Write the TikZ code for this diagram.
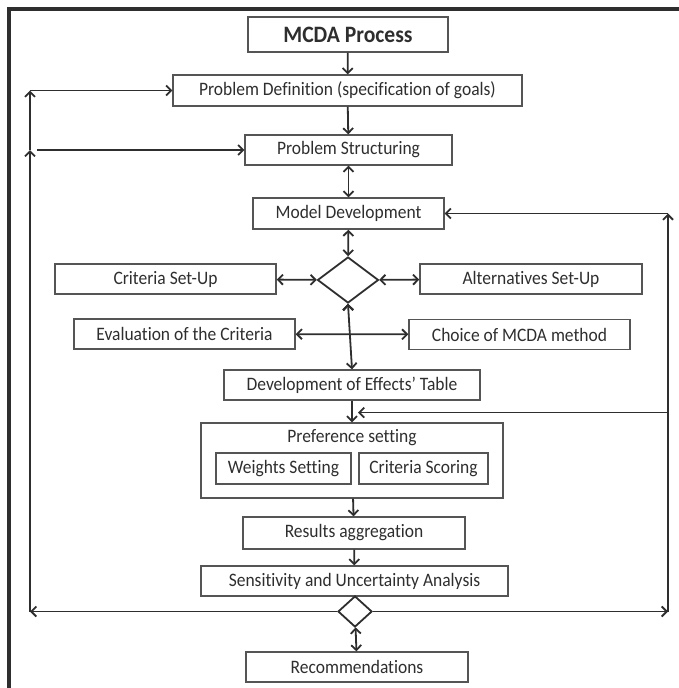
\documentclass[tikz,border=0pt]{standalone}
\usepackage{fontspec}
\setmainfont{Carlito}[Ligatures={NoCommon}, FakeStretch=0.92]
\usetikzlibrary{shapes.geometric, arrows.meta, calc}
\definecolor{ink}{HTML}{2E2E2E}
\definecolor{boxline}{HTML}{555555}

\begin{document}
\begin{tikzpicture}[x=1pt, y=-1pt, >={Straight Barb[length=5pt,width=10pt]},
    block/.style={draw=boxline, line width=1.3pt, text=ink, inner sep=0pt, minimum height=30,
        font=\fontsize{19}{22}\selectfont},
    decision/.style={draw=ink, diamond, line width=1.8pt, inner sep=0pt},
    flow/.style={draw=ink, line width=1.8pt}]
    \useasboundingbox (0,0) rectangle (679,688);
    \draw[ink, line width=3.5pt] (9,688) -- (9,9) -- (679,9);

    \node[block, minimum width=200, minimum height=35, font=\fontsize{23.5}{27}\selectfont\bfseries] (mcda) at (348,34.5) {MCDA Process};
    \node[block, minimum width=349, minimum height=31] (def) at (347.5,90.5) {Problem Definition (specification of goals)};
    \node[block, minimum width=207] (struct) at (348.5,150) {Problem Structuring};
    \node[block, minimum width=191, minimum height=31] (model) at (348.5,213.5) {Model Development};
    \node[decision, minimum width=61, minimum height=46] (dia1) at (348,280) {};
    \node[block, minimum width=221] (crit) at (165.5,279) {Criteria Set-Up};
    \node[block, minimum width=222] (alt) at (531,279) {Alternatives Set-Up};
    \node[block, minimum width=221] (eval) at (184.5,334) {Evaluation of the Criteria};
    \node[block, minimum width=221] (choice) at (519.5,334.5) {Choice of MCDA method};
    \node[block, minimum width=256] (effects) at (352,385) {Development of Effects’ Table};
    \node[block, minimum width=302, minimum height=75] (pref) at (352,460.5) {};
    \node[text=ink, font=\fontsize{19}{22}\selectfont] (preftitle) at (352,438) {Preference setting};
    \node[block, minimum width=135, minimum height=31] (weights) at (283.5,468.5) {Weights Setting};
    \node[block, minimum width=129, minimum height=31] (scoring) at (423.5,468.5) {Criteria Scoring};
    \node[block, minimum width=222, minimum height=32] (results) at (354,533) {Results aggregation};
    \node[block, minimum width=307] (sens) at (354.5,581) {Sensitivity and Uncertainty Analysis};
    \node[decision, minimum width=34, minimum height=31] (dia2) at (355,611.5) {};
    \node[block, minimum width=222] (rec) at (357,667) {Recommendations};

    \coordinate (lx) at (30,611.5);
    \coordinate (rx) at (668,611.5);
    \coordinate (join) at ($(effects.south)!0.55!(pref.north)$);

    \path[flow, ->]
    (mcda) edge (def)
    (def) edge (struct)
    (effects) edge (pref)
    (pref) edge (results)
    (results) edge (sens);
    \path[flow, <->]
    (struct) edge (model)
    (model) edge (dia1)
    (crit) edge (dia1)
    (dia1) edge (alt)
    (eval) edge (choice)
    (dia1.south) edge (effects.north)
    (dia2) edge (rec);

    % feedback loops
    \draw[flow, ->] (dia2.west) -- (lx);
    \draw[flow, ->] (lx) -- (lx |- struct.west);
    \draw[flow, ->] (lx |- struct.west) -- (lx |- def.west);
    \draw[flow, ->] (lx |- def.west) -- (def.west);
    \draw[flow, ->] ([xshift=7pt]lx |- struct.west) -- (struct.west);
    \draw[flow, ->] (dia2.east) -- (rx);
    \draw[flow, ->] (rx) -- (rx |- model.east);
    \draw[flow, ->] (rx |- model.east) -- (model.east);
    \draw[flow, ->] (rx |- join) -- ([xshift=6pt]join);
\end{tikzpicture}
\end{document}
